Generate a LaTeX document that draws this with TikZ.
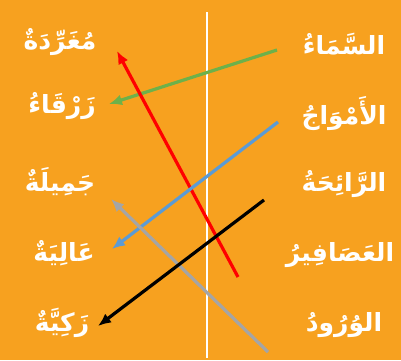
\documentclass[tikz,border=0pt]{standalone}
\usepackage{fontspec}
\usepackage{xcolor}
\usepackage{tikz}
\usetikzlibrary{arrows.meta,positioning}
\TeXXeTstate=1
\newfontfamily\arabicfont[Script=Arabic]{DejaVu Sans}
\definecolor{PageOrange}{HTML}{F7A11F}
\definecolor{LinkGreen}{HTML}{6DB14A}
\definecolor{LinkBlue}{HTML}{5B9BD5}
\definecolor{LinkGray}{HTML}{A5A5A5}

\begin{document}
\begin{tikzpicture}[x=1pt,y=-1pt,
  word/.style={text=white,inner sep=1pt,
               font=\arabicfont\bfseries\fontsize{25}{30}\selectfont},
  link/.style={-{Latex[length=13pt,width=11pt]},line width=3.2pt}]
\fill[PageOrange] (0,0) rectangle (401,360);
\draw[white,line width=1.8pt] (207,12) -- (207,358);
% right column
\node[word] (sky)   at (344,44)  {\beginR السَّمَاءُ\endR};
\node[word] (waves) at (344,114) {\beginR الأَمْوَاجُ\endR};
\node[word] (smell) at (344,184) {\beginR الرَّائِحَةُ\endR};
\node[word] (birds) at (340,255) {\beginR العَصَافِيرُ\endR};
\node[word] (roses) at (344,325) {\beginR الوُرُودُ\endR};
% left column
\node[word] (sing)  at (60,42)  {\beginR مُغَرِّدَةٌ\endR};
\node[word] (blue)  at (62,106) {\beginR زَرْقَاءُ\endR};
\node[word] (nice)  at (60,182) {\beginR جَمِيلَةٌ\endR};
\node[word] (high)  at (64,253) {\beginR عَالِيَةٌ\endR};
\node[word] (smart) at (62,323) {\beginR زَكِيَّةٌ\endR};
% arrow ends
\coordinate (s1) at (277,50);  \coordinate (e1) at (109,104);
\coordinate (s2) at (238,277); \coordinate (e2) at (117,51);
\coordinate (s3) at (278,122); \coordinate (e3) at (112,249);
\coordinate (s4) at (268,352); \coordinate (e4) at (111,199);
\coordinate (s5) at (264,200); \coordinate (e5) at (98,326);
\draw[link,LinkGreen] (s1) -- (e1);
\draw[link,red] (s2) -- (e2);
\draw[link,LinkBlue] (s3) -- (e3);
\draw[link,LinkGray] (s4) -- (e4);
\draw[link,black] (s5) -- (e5);
\end{tikzpicture}
\end{document}
